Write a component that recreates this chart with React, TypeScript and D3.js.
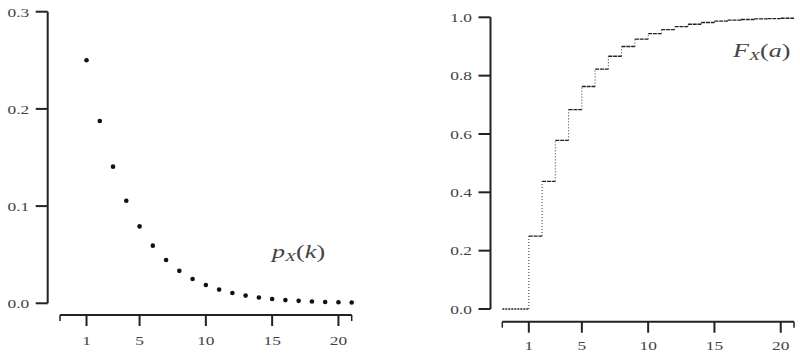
import React from "react";
import * as d3 from "d3";

const ks = [1, 2, 3, 4, 5, 6, 7, 8, 9, 10, 11, 12, 13, 14, 15, 16, 17, 18, 19, 20, 21];
const pmf = [0.25, 0.1875, 0.1406, 0.1055, 0.0791, 0.0593, 0.0445, 0.0334, 0.025, 0.0188, 0.0141,
  0.0106, 0.0079, 0.0059, 0.0045, 0.0033, 0.0025, 0.0019, 0.0014, 0.0011, 0.0008];
const stepKs = [-1, 1, 2, 3, 4, 5, 6, 7, 8, 9, 10, 11, 12, 13, 14, 15, 16, 17, 18, 19, 20, 21];
const cdf = [0, 0.25, 0.4375, 0.5781, 0.6836, 0.7627, 0.822, 0.8665, 0.8999, 0.9249, 0.9437,
  0.9578, 0.9683, 0.9762, 0.9822, 0.9866, 0.99, 0.9925, 0.9944, 0.9958, 0.9968, 0.9976];
const xTicks = [1, 5, 10, 15, 20];
const xDomain = [-1, 21];
const pTicks = [0, 0.1, 0.2, 0.3];
const fTicks = [0, 0.2, 0.4, 0.6, 0.8, 1.0];

const FONT = "Liberation Serif";
const AX = "#222";
const TXT = "#444";
const SX = 1.45;

function XAxis({ x, y, dyLab }: { x: d3.ScaleLinear<number, number>; y: number; dyLab: number }) {
  return (
    <g>
      <line x1={x(xDomain[0])} x2={x(xDomain[1])} y1={y} y2={y} stroke={AX} strokeWidth={2} />
      <line x1={x(xDomain[0])} x2={x(xDomain[0])} y1={y} y2={y + 6} stroke={AX} strokeWidth={1.5} />
      <line x1={x(xDomain[1])} x2={x(xDomain[1])} y1={y} y2={y + 6} stroke={AX} strokeWidth={1.5} />
      {xTicks.map((t) => (
        <g key={t}>
          <line x1={x(t)} x2={x(t)} y1={y} y2={y + 11} stroke={AX} strokeWidth={2} />
          <text transform={`translate(${x(t)},${y + dyLab}) scale(${SX},1)`} textAnchor="middle"
            fontFamily={FONT} fontSize={12} fill={TXT}>{t}</text>
        </g>
      ))}
    </g>
  );
}

function YAxis({ y, x, ticks, fmt }: { y: d3.ScaleLinear<number, number>; x: number; ticks: number[]; fmt: (v: number) => string }) {
  const [d0, d1] = y.domain();
  return (
    <g>
      <line x1={x} x2={x} y1={y(d0)} y2={y(d1)} stroke={AX} strokeWidth={2} />
      {ticks.map((t) => (
        <g key={t}>
          <line x1={x - 12} x2={x} y1={y(t)} y2={y(t)} stroke={AX} strokeWidth={2} />
          <text transform={`translate(${x - 18.5},${y(t) + 4.8}) scale(${SX},1)`} textAnchor="end"
            fontFamily={FONT} fontSize={12} fill={TXT}>{fmt(t)}</text>
        </g>
      ))}
    </g>
  );
}

export default function App() {
  const xL = d3.scaleLinear().domain(xDomain).range([60, 351.7]);
  const yL = d3.scaleLinear().domain([0, 0.3]).range([303.3, 11.7]);
  const xR = d3.scaleLinear().domain(xDomain).range([502.3, 794]);
  const yR = d3.scaleLinear().domain([0, 1]).range([309, 17.3]);
  const fmt = d3.format(".1f");

  return (
    <svg width={800} height={364} style={{ position: "absolute", left: 0, top: 0, background: "#fff" }}>
      {/* Left panel: PMF */}
      <YAxis y={yL} x={47.7} ticks={pTicks} fmt={fmt} />
      <XAxis x={xL} y={315} dyLab={29.5} />
      {ks.map((k, i) => (
        <circle key={k} cx={xL(k)} cy={yL(pmf[i])} r={2.3} fill="#111" />
      ))}
      <text transform={`translate(272,258) scale(${SX},1)`} fontFamily={FONT} fontSize={18}
        fontStyle="italic" fill={TXT}>
        p<tspan fontSize={12.5} dy={3}>X</tspan><tspan dy={-3} fontStyle="normal">(</tspan>k<tspan fontStyle="normal">)</tspan>
      </text>

      {/* Right panel: CDF */}
      <YAxis y={yR} x={490.5} ticks={fTicks} fmt={fmt} />
      <XAxis x={xR} y={321.7} dyLab={28.5} />
      {stepKs.map((k, i) => {
        if (i === stepKs.length - 1) return null;
        const next = stepKs[i + 1];
        return (
          <line key={"h" + k} x1={xR(k)} x2={xR(next)} y1={yR(cdf[i])} y2={yR(cdf[i])}
            stroke="#222" strokeWidth={1.3} strokeDasharray={i === 0 ? "2,1" : "4,0.8"} />
        );
      })}
      {stepKs.slice(1, stepKs.length - 1).map((k, j) => (
        <line key={"v" + k} x1={xR(k)} x2={xR(k)} y1={yR(cdf[j])} y2={yR(cdf[j + 1])}
          stroke="#333" strokeWidth={1} strokeDasharray="1,2" />
      ))}
      <text transform={`translate(733,57) scale(${SX},1)`} fontFamily={FONT} fontSize={18}
        fontStyle="italic" fill={TXT}>
        F<tspan fontSize={12.5} dy={3}>X</tspan><tspan dy={-3} fontStyle="normal">(</tspan>a<tspan fontStyle="normal">)</tspan>
      </text>
    </svg>
  );
}
